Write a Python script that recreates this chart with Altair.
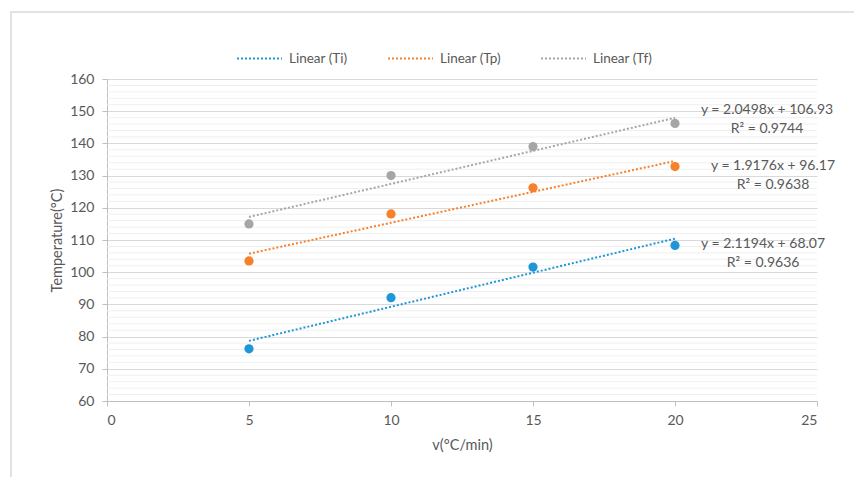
import altair as alt
import pandas as pd

# ---- data ----
rates = [5, 10, 15, 20]
Ti = [76.2, 92.1, 101.6, 108.3]
Tp = [103.5, 118.1, 126.2, 132.8]
Tf = [115.0, 130.0, 139.0, 146.2]
series_names = ["Ti", "Tp", "Tf"]
legend_labels = ["Linear (Ti)", "Linear (Tp)", "Linear (Tf)"]
colors = ["#1F96D8", "#F6802B", "#A6A6A6"]

eq_texts = ["y = 2.1194x + 68.07", "y = 1.9176x + 96.17", "y = 2.0498x + 106.93"]
r2_texts = ["R² = 0.9636", "R² = 0.9638", "R² = 0.9744"]
label_v = [23.1, 23.45, 23.24]
label_T = [108.9, 133.1, 150.5]

y_major = list(range(60, 161, 10))
y_minor = [t for t in range(60, 161, 2) if t % 10 != 0]
x_ticks = [0, 5, 10, 15, 20, 25]

rows = []
for name, vals in zip(series_names, [Ti, Tp, Tf]):
    for v, t in zip(rates, vals):
        rows.append({"series": name, "v": v, "T": t})
df = pd.DataFrame(rows)

labels_df = pd.DataFrame({
    "series": series_names,
    "text": [f"{e}\n{r}" for e, r in zip(eq_texts, r2_texts)],
    "v": label_v,
    "T": label_T,
})
minor_df = pd.DataFrame({"T": y_minor})

FONT = "Lato"
TXT = "#595959"
GRID = "#D9D9D9"

xscale = alt.Scale(domain=[0, 25], nice=False)
yscale = alt.Scale(domain=[60, 160], nice=False, zero=False)

xaxis = alt.Axis(values=x_ticks, grid=False, title="v(°C/min)", tickSize=5,
                 labelPadding=7, titlePadding=11, domainColor="#BFBFBF",
                 tickColor="#BFBFBF")
yaxis = alt.Axis(values=y_major, grid=True, gridColor=GRID, title="Temperature(°C)",
                 tickSize=5, labelPadding=8, titlePadding=5, domainColor="#BFBFBF",
                 tickColor="#BFBFBF", orient="left")

X = alt.X("v:Q", scale=xscale, axis=xaxis)
Y = alt.Y("T:Q", scale=yscale, axis=yaxis)

# minor horizontal gridlines
minor = alt.Chart(minor_df).mark_rule(color="#EFEFEF", strokeWidth=1).encode(y=Y)

base = alt.Chart(df)

lines = base.transform_regression(
    "v", "T", groupby=["series"], extent=[5, 20]
).transform_calculate(
    label="'Linear (' + datum.series + ')'"
).mark_line(strokeDash=[2, 2], strokeWidth=2).encode(
    x=X, y=Y,
    color=alt.Color("label:N", scale=alt.Scale(domain=legend_labels, range=colors),
                    legend=alt.Legend(
                        title=None, orient="none", direction="horizontal",
                        columns=3, legendX=129, legendY=-44,
                        symbolType="stroke", symbolSize=2025,
                        symbolStrokeWidth=2, symbolDash=[2, 2],
                        labelOffset=6, columnPadding=36,
                        labelFontSize=13.5, labelColor=TXT, labelFont=FONT)),
    detail="series:N",
)

points = base.mark_circle(size=85, opacity=1).encode(
    x=X, y=Y,
    color=alt.Color("series:N", scale=alt.Scale(domain=series_names, range=colors),
                    legend=None),
)

labels = alt.Chart(labels_df).mark_text(
    align="center", baseline="middle", lineBreak="\n", lineHeight=19,
    fontSize=14, color=TXT, font=FONT
).encode(x=X, y=Y, text="text:N")

border = alt.Chart(pd.DataFrame({"a": [0]})).mark_rect(
    fill=None, stroke="#D9D9D9", strokeWidth=1.5
).encode(
    x=alt.value(-96), x2=alt.value(757),
    y=alt.value(-67), y2=alt.value(408),
)

chart = alt.layer(minor, lines, points, labels, border).resolve_scale(
    color="independent"
).properties(
    width=710, height=322,
    autosize=alt.AutoSizeParams(type="none"),
    padding={"left": 107, "top": 79, "right": 37, "bottom": 76},
    background="white",
).configure(
    font=FONT,
).configure_view(
    stroke=None
).configure_axis(
    labelFont=FONT, titleFont=FONT, labelFontSize=14, titleFontSize=14.5,
    labelColor=TXT, titleColor=TXT, titleFontWeight="normal",
)

chart.save("out.html", embed_options={"renderer": "svg", "actions": False})
